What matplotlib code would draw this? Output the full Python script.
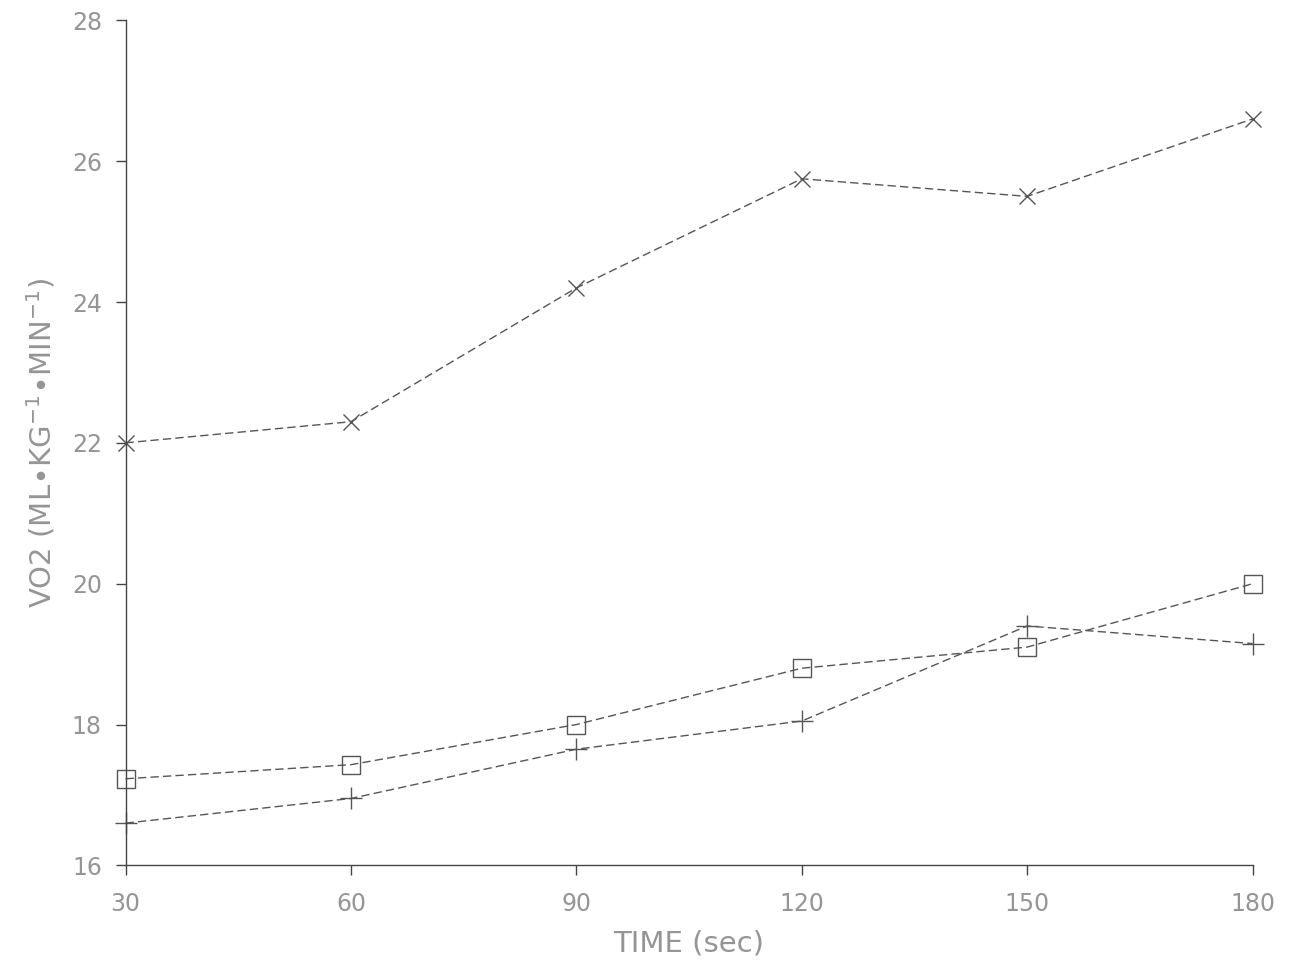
import numpy as np
import matplotlib
matplotlib.use('Agg')
import matplotlib.pyplot as plt

# time points (sec)
time = [30, 60, 90, 120, 150, 180]

# VO2 values
vo2X = [22.0, 22.3, 24.2, 25.75, 25.5, 26.6]
vo2Sq = [17.23, 17.43, 18.0, 18.8, 19.1, 20.0]
vo2Plus = [16.6, 16.95, 17.65, 18.05, 19.4, 19.15]

xTicks = [30, 60, 90, 120, 150, 180]
yTicks = [16, 18, 20, 22, 24, 26, 28]

lineCol = '#555555'
txtCol = '#959595'

fig = plt.figure(figsize=(12.94, 9.68), dpi=100)
ax = fig.add_axes([0.097, 0.106, 0.871, 0.873])

ax.plot(time, vo2X, color=lineCol, ls=(0, (6, 3)), lw=1.0, marker='x', ms=11, mew=1.0, clip_on=False)
ax.plot(time, vo2Sq, color=lineCol, ls=(0, (6, 3)), lw=1.0, marker='s', ms=13, mew=1.0, mfc='none', clip_on=False)
ax.plot(time, vo2Plus, color=lineCol, ls=(0, (6, 3)), lw=1.0, marker='+', ms=16, mew=1.0, clip_on=False)

ax.set_xlim(30, 180)
ax.set_ylim(16, 28)
ax.set_xticks(xTicks)
ax.set_yticks(yTicks)

for s in ['top', 'right']:
    ax.spines[s].set_visible(False)
for s in ['left', 'bottom']:
    ax.spines[s].set_color('#444444')
    ax.spines[s].set_linewidth(1.0)

ax.tick_params(axis='both', direction='out', length=7, width=1.0, color='#444444',
               labelcolor=txtCol, labelsize=17)
ax.tick_params(axis='x', pad=12)
ax.tick_params(axis='y', pad=10)

ax.set_xlabel('TIME (sec)', fontsize=21, color=txtCol, labelpad=10)
ax.set_ylabel(r'VO2 (ML$\bullet$KG$^{-1}$$\bullet$MIN$^{-1}$)', fontsize=21, color=txtCol, labelpad=10)

fig.savefig('out.png', dpi=100, facecolor='white')
